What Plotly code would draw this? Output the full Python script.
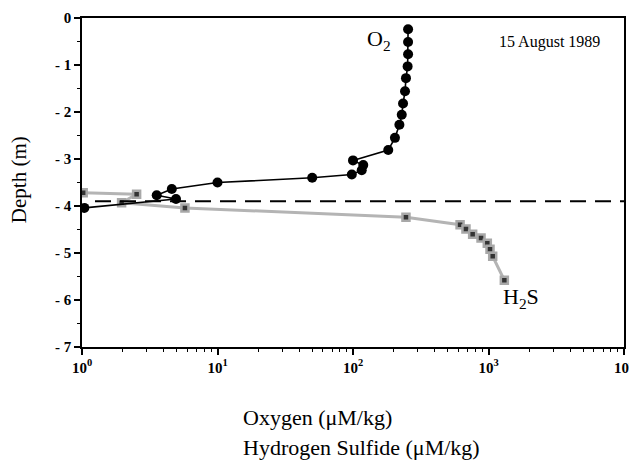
import plotly.graph_objects as go

# Oxygen profile (uM/kg) vs depth (m)
o2_conc = [255, 255, 255, 253, 246, 242, 234, 229, 220, 204, 182, 100, 119, 116, 98, 50, 10, 4.6, 3.56, 4.94, 1.04]
o2_depth = [-0.24, -0.51, -0.77, -1.03, -1.28, -1.56, -1.82, -2.06, -2.27, -2.55, -2.81,
            -3.03, -3.13, -3.24, -3.33, -3.40, -3.50, -3.64, -3.77, -3.85, -4.04]

# Hydrogen sulfide profile (uM/kg) vs depth (m)
h2s_conc = [1.02, 2.53, 1.96, 5.75, 246, 617, 682, 764, 881, 980, 1026, 1074, 1309]
h2s_depth = [-3.72, -3.75, -3.93, -4.04, -4.24, -4.40, -4.49, -4.60, -4.68, -4.79, -4.92, -5.07, -5.58]

interface_depth = -3.9

x_tickvals = [1, 10, 100, 1000, 10000]
x_ticktext = ["10<sup>0</sup>", "10<sup>1</sup>", "10<sup>2</sup>", "10<sup>3</sup>", "10<sup>4</sup>"]
y_tickvals = [0, -1, -2, -3, -4, -5, -6, -7]
y_ticktext = ["0", "- 1", "- 2", "- 3", "- 4", "- 5", "- 6", "- 7"]

minor_x = [m * d for d in [1, 10, 100, 1000] for m in range(2, 10)]

FONT = "Liberation Serif"

fig = go.Figure()

fig.add_trace(go.Scatter(
    x=h2s_conc, y=h2s_depth, mode="lines+markers",
    line=dict(color="#b4b4b4", width=3),
    marker=dict(symbol="square", size=7, color="#333333",
                line=dict(color="#a8a8a8", width=2.5)),
    showlegend=False, hoverinfo="skip"))

fig.add_trace(go.Scatter(
    x=o2_conc, y=o2_depth, mode="lines+markers",
    line=dict(color="black", width=1.6),
    marker=dict(symbol="circle", size=10, color="black"),
    showlegend=False, hoverinfo="skip"))

fig.add_shape(type="line", xref="paper", yref="y", x0=0.024, x1=1, y0=interface_depth, y1=interface_depth,
              line=dict(color="black", width=2, dash="16px,9px"))

fig.update_xaxes(type="log", range=[0, 4], tickvals=x_tickvals, ticktext=x_ticktext, automargin=False,
                 showgrid=False, zeroline=False, showline=True, linecolor="black", linewidth=1.5,
                 mirror=True, ticks="outside", ticklen=6, tickwidth=1.5, tickcolor="black",
                 tickfont=dict(family=FONT, size=15, color="black", weight="bold"),
                 minor=dict(tickvals=minor_x, ticks="outside", ticklen=3, tickwidth=1, tickcolor="black"))

fig.update_yaxes(range=[-7, 0], tickvals=y_tickvals, ticktext=y_ticktext, automargin=False,
                 showgrid=False, zeroline=False, showline=True, linecolor="black", linewidth=1.5,
                 mirror=True, ticks="outside", ticklen=6, tickwidth=1.5, tickcolor="black",
                 tickfont=dict(family=FONT, size=15, color="black", weight="bold"),
                 minor=dict(dtick=0.5, ticks="outside", ticklen=3, tickwidth=1, tickcolor="black"))

ann_font = dict(family=FONT, color="black")
common = dict(xref="paper", yref="paper", showarrow=False, xanchor="center", yanchor="middle")
fig.add_annotation(text="O<sub>2</sub>", x=0.548, y=0.933, font=dict(size=22, **ann_font), **common)
fig.add_annotation(text="15 August 1989", x=0.863, y=0.927, font=dict(size=16, **ann_font), **common)
fig.add_annotation(text="H<sub>2</sub>S", x=0.81, y=0.149, font=dict(size=22, **ann_font), **common)
fig.add_annotation(text="Depth (m)", x=-0.116, y=0.5076, textangle=-90,
                   font=dict(size=21, **ann_font), **common)
fig.add_annotation(text="Oxygen (\u03bcM/kg)", xref="paper", yref="paper", x=0.2934, y=-0.2158,
                   xanchor="left", yanchor="middle", showarrow=False, font=dict(size=22, **ann_font))
fig.add_annotation(text="Hydrogen Sulfide (\u03bcM/kg)", xref="paper", yref="paper", x=0.2934, y=-0.304,
                   xanchor="left", yanchor="middle", showarrow=False, font=dict(size=22, **ann_font))

fig.update_layout(width=637, height=461, margin=dict(l=74, r=21, t=10, b=122),
                  paper_bgcolor="white", plot_bgcolor="white",
                  font=dict(family=FONT, color="black"))

fig.write_html("out.html")
